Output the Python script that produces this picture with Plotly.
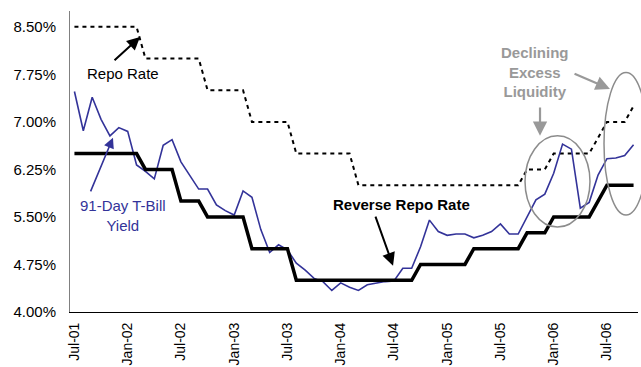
import plotly.graph_objects as go

# Monthly observations, Jul-2001 .. Oct-2006
months = [
    "Jul-01", "Aug-01", "Sep-01", "Oct-01", "Nov-01", "Dec-01",
    "Jan-02", "Feb-02", "Mar-02", "Apr-02", "May-02", "Jun-02",
    "Jul-02", "Aug-02", "Sep-02", "Oct-02", "Nov-02", "Dec-02",
    "Jan-03", "Feb-03", "Mar-03", "Apr-03", "May-03", "Jun-03",
    "Jul-03", "Aug-03", "Sep-03", "Oct-03", "Nov-03", "Dec-03",
    "Jan-04", "Feb-04", "Mar-04", "Apr-04", "May-04", "Jun-04",
    "Jul-04", "Aug-04", "Sep-04", "Oct-04", "Nov-04", "Dec-04",
    "Jan-05", "Feb-05", "Mar-05", "Apr-05", "May-05", "Jun-05",
    "Jul-05", "Aug-05", "Sep-05", "Oct-05", "Nov-05", "Dec-05",
    "Jan-06", "Feb-06", "Mar-06", "Apr-06", "May-06", "Jun-06",
    "Jul-06", "Aug-06", "Sep-06", "Oct-06",
]

repo_rate = [
    8.50, 8.50, 8.50, 8.50, 8.50, 8.50, 8.50, 8.50,
    8.00, 8.00, 8.00, 8.00, 8.00, 8.00, 8.00,
    7.50, 7.50, 7.50, 7.50, 7.50,
    7.00, 7.00, 7.00, 7.00, 7.00,
    6.50, 6.50, 6.50, 6.50, 6.50, 6.50, 6.50,
    6.00, 6.00, 6.00, 6.00, 6.00, 6.00, 6.00, 6.00, 6.00, 6.00,
    6.00, 6.00, 6.00, 6.00, 6.00, 6.00, 6.00, 6.00, 6.00,
    6.25, 6.25, 6.25,
    6.50, 6.50, 6.50, 6.50, 6.50,
    6.75,
    7.00, 7.00, 7.00,
    7.25,
]

reverse_repo_rate = [
    6.50, 6.50, 6.50, 6.50, 6.50, 6.50, 6.50, 6.50,
    6.25, 6.25, 6.25, 6.25,
    5.75, 5.75, 5.75,
    5.50, 5.50, 5.50, 5.50, 5.50,
    5.00, 5.00, 5.00, 5.00, 5.00,
    4.50, 4.50, 4.50, 4.50, 4.50, 4.50, 4.50,
    4.50, 4.50, 4.50, 4.50, 4.50, 4.50, 4.50,
    4.75, 4.75, 4.75, 4.75, 4.75, 4.75,
    5.00, 5.00, 5.00, 5.00, 5.00, 5.00,
    5.25, 5.25, 5.25,
    5.50, 5.50, 5.50, 5.50, 5.50,
    5.75,
    6.00, 6.00, 6.00, 6.00,
]

tbill_91day = [
    7.48, 6.86, 7.39, 7.04, 6.78, 6.91, 6.85, 6.32, 6.22, 6.10,
    6.63, 6.72, 6.37, 6.16, 5.94, 5.94, 5.69, 5.60, 5.53, 5.91,
    5.81, 5.30, 4.94, 5.06, 4.98, 4.77, 4.66, 4.53, 4.48, 4.34,
    4.46, 4.39, 4.34, 4.43, 4.46, 4.48, 4.49, 4.69, 4.69, 5.03,
    5.45, 5.27, 5.21, 5.23, 5.23, 5.17, 5.21, 5.27, 5.39, 5.23,
    5.23, 5.50, 5.77, 5.86, 6.19, 6.65, 6.57, 5.64, 5.73, 6.16,
    6.42, 6.43, 6.47, 6.64,
]

y_ticks = [4.00, 4.75, 5.50, 6.25, 7.00, 7.75, 8.50]
x_tick_labels = ["Jul-01", "Jan-02", "Jul-02", "Jan-03", "Jul-03", "Jan-04",
                 "Jul-04", "Jan-05", "Jul-05", "Jan-06", "Jul-06"]

x_idx = list(range(len(months)))
x_tick_pos = [months.index(m) for m in x_tick_labels]

FONT = "Liberation Sans, Arial, sans-serif"
BLUE = "#333399"
GREY = "#999999"

X_RANGE = [-0.5, len(months) - 0.5]
Y_RANGE = [4.0, 8.75]

fig = go.Figure()

fig.add_trace(go.Scatter(
    x=x_idx, y=repo_rate, mode="lines", name="Repo Rate",
    line=dict(color="black", width=2, dash="4px,4px"),
))
fig.add_trace(go.Scatter(
    x=x_idx, y=tbill_91day, mode="lines", name="91-Day T-Bill Yield",
    line=dict(color=BLUE, width=1.6),
))
fig.add_trace(go.Scatter(
    x=x_idx, y=reverse_repo_rate, mode="lines", name="Reverse Repo Rate",
    line=dict(color="black", width=3.5),
))


def label(text, x, y, color="black", bold=False):
    if bold:
        text = "<b>" + text.replace("<br>", "</b><br><b>") + "</b>"
    fig.add_annotation(
        x=x, y=y, xref="x", yref="y", text=text, showarrow=False,
        font=dict(family=FONT, size=15, color=color),
        align="center", xanchor="center", yanchor="middle",
    )


def arrow(x0, y0, x1, y1, color="black", width=2):
    fig.add_annotation(
        x=x1, y=y1, ax=x0, ay=y0, xref="x", yref="y", axref="x", ayref="y",
        text="", showarrow=True, arrowhead=2, arrowsize=1.3,
        arrowwidth=width, arrowcolor=color,
    )


label("Repo Rate", 5.5, 7.77)
arrow(4.35, 7.95, 7.39, 8.34)

label("91-Day T-Bill<br>Yield", 5.45, 5.53, color=BLUE)
arrow(1.75, 5.88, 4.34, 6.75, color=BLUE, width=1.6)

label("Reverse Repo Rate", 36.85, 5.70, bold=True)
arrow(33.86, 5.53, 35.9, 4.73)

label("Declining<br>Excess<br>Liquidity", 51.9, 7.79, color=GREY, bold=True)
arrow(52.46, 7.25, 52.46, 6.78, color=GREY, width=2.2)
arrow(56.18, 7.77, 60.34, 7.52, color=GREY, width=2.2)


def to_paper_x(v):
    return (v - X_RANGE[0]) / (X_RANGE[1] - X_RANGE[0])


def to_paper_y(v):
    return (v - Y_RANGE[0]) / (Y_RANGE[1] - Y_RANGE[0])


# ellipses highlighting the recent tightening episodes
for x0, x1, y0, y1 in [(50.77, 58.09, 5.34, 6.78), (59.67, 64.63, 5.53, 7.78)]:
    fig.add_shape(
        type="circle", xref="paper", yref="paper",
        x0=to_paper_x(x0), x1=to_paper_x(x1),
        y0=to_paper_y(y0), y1=to_paper_y(y1),
        line=dict(color="#8c8c8c", width=1.5),
    )

fig.update_layout(
    width=641, height=367,
    margin=dict(l=70, r=3, t=11, b=55),
    paper_bgcolor="white", plot_bgcolor="white",
    showlegend=False,
    font=dict(family=FONT, size=15, color="black"),
    xaxis=dict(
        range=X_RANGE, tickvals=x_tick_pos, ticktext=x_tick_labels,
        tickangle=-90, ticks="", showgrid=False, zeroline=False,
        showline=True, linecolor="black", linewidth=1,
        tickfont=dict(family=FONT, size=14, color="black"),
        ticklabelstandoff=4, automargin=False,
    ),
    yaxis=dict(
        range=Y_RANGE, tickvals=y_ticks,
        ticktext=[f"{v:.2f}%" for v in y_ticks],
        ticks="", showgrid=False, zeroline=False,
        showline=True, linecolor="#808080", linewidth=1,
        tickfont=dict(family=FONT, size=15, color="black"),
        ticklabelstandoff=10, automargin=False,
    ),
)

fig.write_html("out.html")
